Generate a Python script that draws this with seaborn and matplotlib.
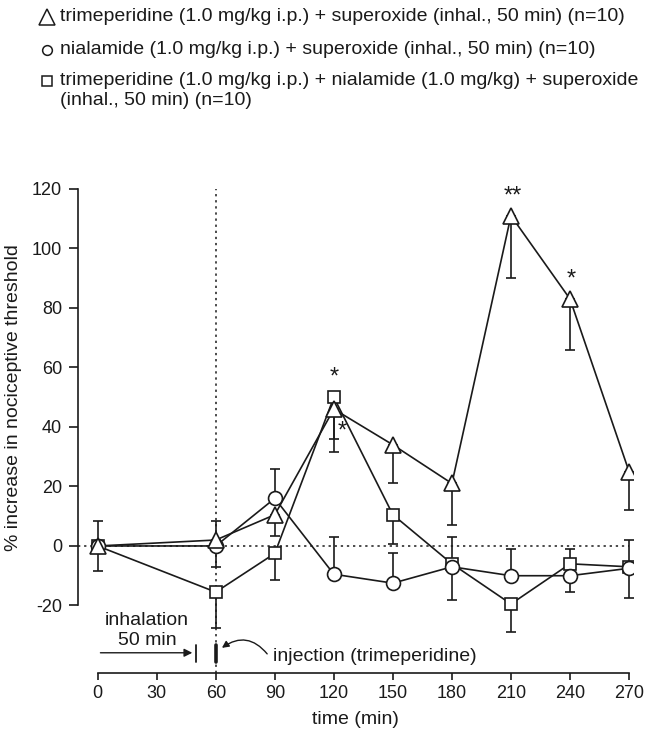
import matplotlib
matplotlib.use("Agg")
import matplotlib.pyplot as plt
from matplotlib.lines import Line2D
import seaborn as sns

# time points (min)
times = [0, 60, 90, 120, 150, 180, 210, 240, 270]

# trimeperidine + superoxide (triangles)
tri = [0, 2, 10.5, 46, 34, 21, 111, 83, 25]
tri_lo = [8.5, 0, 7, 14.5, 13, 14, 21, 17, 13]
tri_hi = [8.5, 6.5, 0, 0, 0, 0, 0, 0, 0]

# nialamide + superoxide (circles)
cir = [0, 0, 16, -9.5, -12.5, -7, -10, -10, -7.5]
cir_lo = [0, 7, 0, 0, 0, 0, 0, 5.5, 0]
cir_hi = [0, 0, 10, 12.5, 10, 10, 9, 0, 9.5]

# trimeperidine + nialamide + superoxide (squares)
sq = [0, -15.5, -2.5, 50, 10.5, -6, -19.5, -6, -7]
sq_lo = [0, 12, 9, 14, 10, 12, 9.5, 0, 10.5]
sq_hi = [0, 0, 0, 0, 0, 0, 0, 5, 0]

labels = [
    "trimeperidine (1.0 mg/kg i.p.) + superoxide (inhal., 50 min) (n=10)",
    "nialamide (1.0 mg/kg i.p.) + superoxide (inhal., 50 min) (n=10)",
    "trimeperidine (1.0 mg/kg i.p.) + nialamide (1.0 mg/kg) + superoxide\n(inhal., 50 min) (n=10)",
]

sns.set_style("ticks")
plt.rcParams['font.family'] = ['Liberation Sans', 'DejaVu Sans']
plt.rcParams['font.size'] = 14
plt.rcParams['axes.unicode_minus'] = False

ink = "#1a1a1a"
W, H = 645, 732
fig = plt.figure(figsize=(W / 100, H / 100), dpi=100)
ax = fig.add_axes([0.1209, 0.0810, 0.8605, 0.669])

# drawn in this order so the triangles end up on top at t=0
series = [
    (sq, sq_lo, sq_hi, "s", 8.5),
    (cir, cir_lo, cir_hi, "o", 10),
    (tri, tri_lo, tri_hi, "^", 12),
]

# reference dotted lines
ax.plot([-10, 270], [0, 0], ls=(0, (1.5, 2.5)), color=ink, lw=1.1, zorder=1)
ax.plot([60, 60], [-42.6, 120], ls=(0, (1.5, 2.5)), color=ink, lw=1.1, zorder=1)

for vals, lo, hi, mk, ms in series:
    sns.lineplot(x=times, y=vals, ax=ax, color=ink, lw=1.2, errorbar=None, zorder=2)
    ax.errorbar(times, vals, yerr=[lo, hi], fmt="none", ecolor=ink, elinewidth=1.2,
                capsize=3.5, capthick=1.2, zorder=2)

for vals, lo, hi, mk, ms in series:
    ax.plot(times, vals, ls="none", marker=mk, markersize=ms, markerfacecolor="white",
            markeredgecolor=ink, markeredgewidth=1.2, zorder=4)

# significance marks
ax.text(120, 56.5, "*", ha="center", va="center", fontsize=17, color=ink)
ax.text(124.5, 38.5, "*", ha="center", va="center", fontsize=17, color=ink)
ax.text(211, 117.5, "**", ha="center", va="center", fontsize=17, color=ink)
ax.text(240.5, 89.5, "*", ha="center", va="center", fontsize=17, color=ink)

# inhalation / injection annotations
ax.text(25, -28.4, "inhalation\n50 min", ha="center", va="center", fontsize=14,
        color=ink, linespacing=1.3)
ax.annotate("", xy=(49.5, -35.9), xytext=(0, -35.9),
            arrowprops=dict(arrowstyle="-|>", lw=1.0, color=ink, mutation_scale=12))
ax.plot([50, 50], [-33.3, -38.9], color=ink, lw=1.3)
ax.plot([60, 60], [-33.3, -38.9], color=ink, lw=2.6)
ax.annotate("", xy=(62, -34.8), xytext=(87, -37),
            arrowprops=dict(arrowstyle="-|>", lw=1.0, color=ink, mutation_scale=10,
                            connectionstyle="arc3,rad=0.5"))
ax.text(89, -37, "injection (trimeperidine)", ha="left", va="center", fontsize=14, color=ink)

ax.set_xlim(-10, 272)
ax.set_ylim(-42.6, 122)
ax.set_xticks(range(0, 271, 30))
ax.set_yticks(range(-20, 121, 20))
ax.spines["left"].set_bounds(-20, 120)
ax.spines["bottom"].set_bounds(0, 270)
sns.despine(ax=ax)
for s in ("left", "bottom"):
    ax.spines[s].set_color(ink)
    ax.spines[s].set_linewidth(1.2)
ax.tick_params(axis="y", length=6.5, width=1.2, color=ink, labelsize=13, labelcolor=ink, pad=5)
ax.tick_params(axis="x", length=5, width=1.2, color=ink, labelsize=13, labelcolor=ink)
ax.set_xlabel("time (min)", fontsize=14, color=ink, labelpad=7)
ax.set_ylabel("% increase in nociceptive threshold", fontsize=14, color=ink)
ax.yaxis.set_label_coords(-0.1, (50 + 42.6) / 164.6)

# legend drawn by hand so the marker sits on the first line of each entry
legend_markers = [("^", 11), ("o", 7), ("s", 6.5)]
entry_y = [16.7, 49.5, 80.5]
for (mk, ms), lab, yc in zip(legend_markers, labels, entry_y):
    fig.add_artist(Line2D([46.5 / W], [1 - yc / H], transform=fig.transFigure, ls="none",
                          marker=mk, markersize=ms, markerfacecolor="white",
                          markeredgecolor=ink, markeredgewidth=1.1))
    for i, line in enumerate(lab.split("\n")):
        fig.text(60 / W, 1 - (yc + i * 20) / H, line, ha="left", va="center",
                 fontsize=14.0, color=ink)

fig.savefig("out.png", dpi=100)
